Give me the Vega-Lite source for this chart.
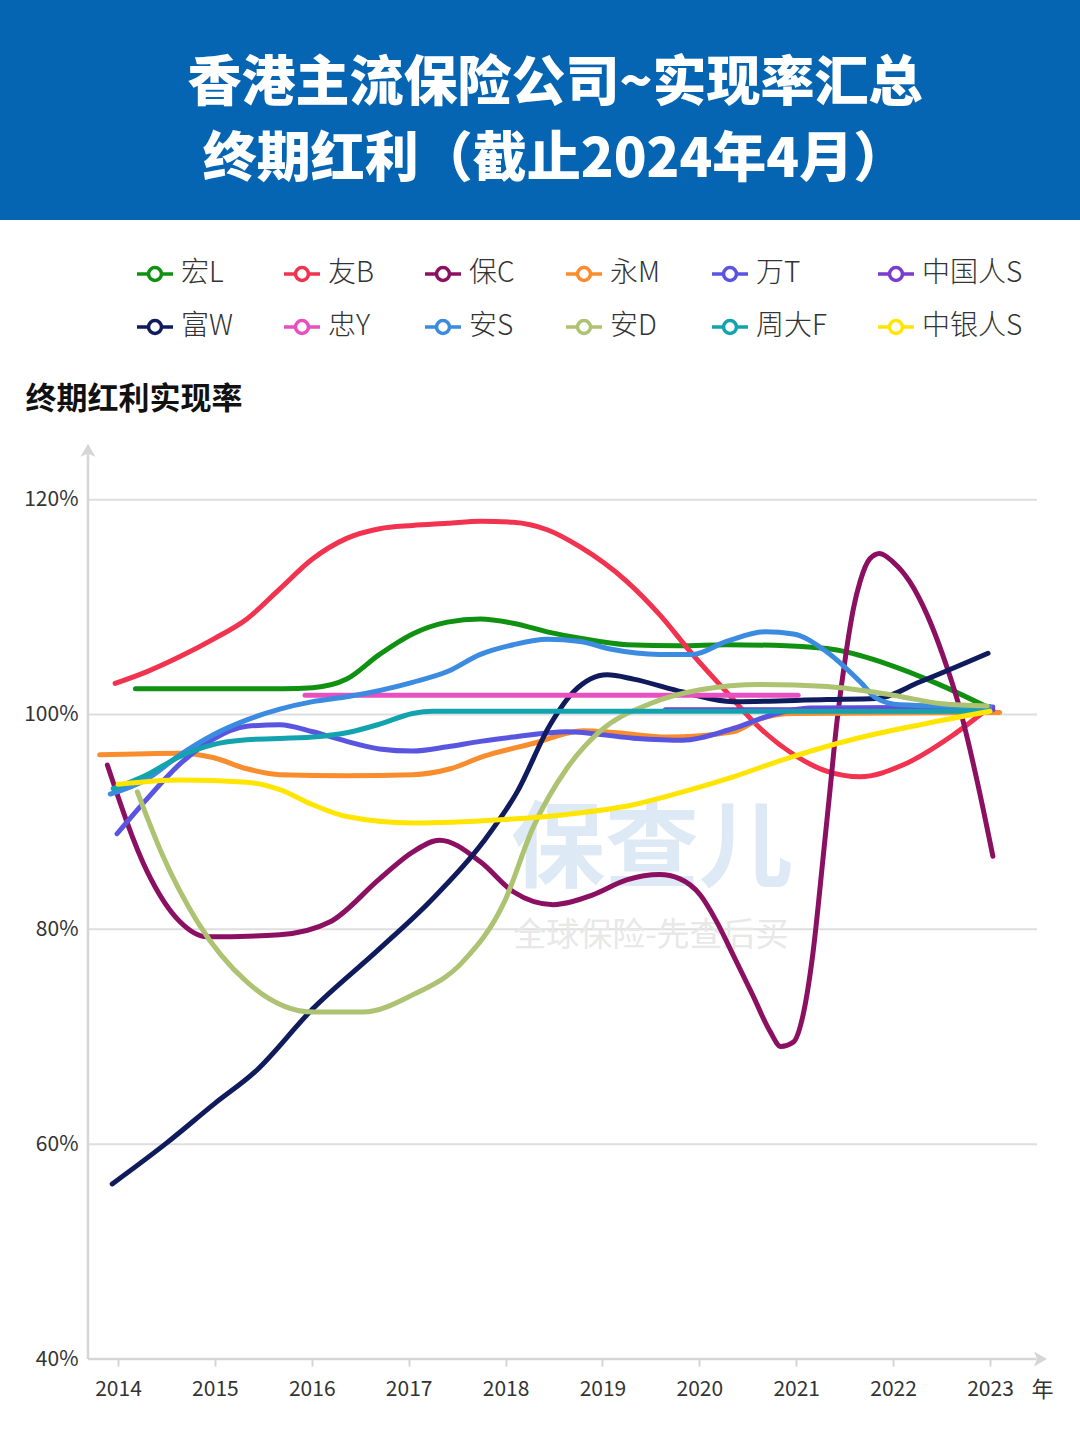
{
  "$schema": "https://vega.github.io/schema/vega-lite/v6.json",
  "background": "white",
  "padding": 0,
  "columns": 1,
  "align": "each",
  "spacing": 163,
  "config": {
    "font": "Noto Sans CJK SC",
    "view": {"stroke": null}
  },
  "concat": [
    {
      "width": 1080,
      "height": 220,
      "view": {"fill": "#0565B3", "stroke": null},
      "data": {"values": [
        {"row": 1, "line": "香港主流保险公司~实现率汇总"},
        {"row": 2, "line": "终期红利（截止2024年4月）"}
      ]},
      "mark": {"type": "text", "font": "Noto Sans CJK SC", "fontSize": 54, "fontWeight": 900, "color": "#ffffff", "align": "center", "baseline": "middle", "dx": 15, "dy": 8},
      "encoding": {
        "text": {"field": "line", "type": "nominal"},
        "x": {"datum": 0.5, "type": "quantitative", "scale": {"domain": [0, 1]}, "axis": null},
        "y": {"field": "row", "type": "quantitative", "scale": {"domain": [0, 2.87], "reverse": true, "nice": false, "zero": false}, "axis": null}
      }
    },
    {
      "width": 1080,
      "height": 913,
      "resolve": {"axis": {"x": "independent", "y": "independent"}},
      "layer": [
        {
          "data": {"values": [{"v": 60}, {"v": 80}, {"v": 100}, {"v": 120}]},
          "mark": {"type": "rule", "color": "#DEDEDE", "strokeWidth": 2},
          "encoding": {
            "y": {"field": "v", "type": "quantitative", "scale": {"domain": [40, 125], "nice": false, "zero": false}, "axis": null},
            "x": {"datum": 2013.69, "type": "quantitative", "scale": {"domain": [2012.782, 2023.929], "nice": false, "zero": false}, "axis": null},
            "x2": {"datum": 2023.485}
          }
        },
        {
          "data": {"values": [{}]},
          "mark": {"type": "rule", "color": "#D6D6D6", "strokeWidth": 2.5},
          "encoding": {
            "x": {"datum": 2013.69, "type": "quantitative", "scale": {"domain": [2012.782, 2023.929], "nice": false, "zero": false}, "axis": null},
            "y": {"datum": 40, "type": "quantitative", "scale": {"domain": [40, 125], "nice": false, "zero": false}, "axis": null},
            "y2": {"datum": 124.3}
          }
        },
        {
          "data": {"values": [{}]},
          "mark": {"type": "rule", "color": "#D6D6D6", "strokeWidth": 2.5},
          "encoding": {
            "x": {"datum": 2013.69, "type": "quantitative", "scale": {"domain": [2012.782, 2023.929], "nice": false, "zero": false}, "axis": null},
            "x2": {"datum": 2023.48},
            "y": {"datum": 40, "type": "quantitative", "scale": {"domain": [40, 125], "nice": false, "zero": false}, "axis": null}
          }
        },
        {
          "data": {"values": [{}]},
          "mark": {"type": "point", "shape": "M0,-1L0.75,0.3L0,0L-0.75,0.3Z", "size": 400, "filled": true, "color": "#D6D6D6", "opacity": 1},
          "encoding": {
            "x": {"datum": 2013.69, "type": "quantitative", "scale": {"domain": [2012.782, 2023.929], "nice": false, "zero": false}, "axis": null},
            "y": {"datum": 124.28, "type": "quantitative", "scale": {"domain": [40, 125], "nice": false, "zero": false}, "axis": null}
          }
        },
        {
          "data": {"values": [{}]},
          "mark": {"type": "point", "shape": "M1,0L-0.3,0.75L0,0L-0.3,-0.75Z", "size": 400, "filled": true, "color": "#D6D6D6", "opacity": 1},
          "encoding": {
            "x": {"datum": 2023.485, "type": "quantitative", "scale": {"domain": [2012.782, 2023.929], "nice": false, "zero": false}, "axis": null},
            "y": {"datum": 40, "type": "quantitative", "scale": {"domain": [40, 125], "nice": false, "zero": false}, "axis": null}
          }
        },
        {
          "data": {"values": [{"t": "保查儿"}]},
          "mark": {"type": "text", "fontSize": 94, "fontWeight": "bold", "color": "#DDE9F5", "align": "center", "baseline": "middle"},
          "encoding": {
            "text": {"field": "t", "type": "nominal"},
            "x": {"datum": 2019.511, "type": "quantitative", "scale": {"domain": [2012.782, 2023.929], "nice": false, "zero": false}, "axis": null},
            "y": {"datum": 87.2, "type": "quantitative", "scale": {"domain": [40, 125], "nice": false, "zero": false}, "axis": null}
          }
        },
        {
          "data": {"values": [{"t": "全球保险-先查后买"}]},
          "mark": {"type": "text", "fontSize": 33, "color": "#E8E8E8", "align": "center", "baseline": "middle"},
          "encoding": {
            "text": {"field": "t", "type": "nominal"},
            "x": {"datum": 2019.5, "type": "quantitative", "scale": {"domain": [2012.782, 2023.929], "nice": false, "zero": false}, "axis": null},
            "y": {"datum": 79.4, "type": "quantitative", "scale": {"domain": [40, 125], "nice": false, "zero": false}, "axis": null}
          }
        },
        {
          "data": {"values": [
            {"company": "宏L", "year": 2014.18, "rate": 102.4},
            {"company": "宏L", "year": 2015.0, "rate": 102.4},
            {"company": "宏L", "year": 2015.7, "rate": 102.4},
            {"company": "宏L", "year": 2016.01, "rate": 102.5},
            {"company": "宏L", "year": 2016.36, "rate": 103.3},
            {"company": "宏L", "year": 2016.7, "rate": 105.6},
            {"company": "宏L", "year": 2017.04, "rate": 107.5},
            {"company": "宏L", "year": 2017.4, "rate": 108.6},
            {"company": "宏L", "year": 2017.74, "rate": 108.9},
            {"company": "宏L", "year": 2018.08, "rate": 108.5},
            {"company": "宏L", "year": 2018.43, "rate": 107.7},
            {"company": "宏L", "year": 2018.77, "rate": 107.1},
            {"company": "宏L", "year": 2019.25, "rate": 106.5},
            {"company": "宏L", "year": 2019.8, "rate": 106.4},
            {"company": "宏L", "year": 2020.28, "rate": 106.5},
            {"company": "宏L", "year": 2020.9, "rate": 106.4},
            {"company": "宏L", "year": 2021.42, "rate": 106.0},
            {"company": "宏L", "year": 2021.94, "rate": 104.7},
            {"company": "宏L", "year": 2022.45, "rate": 102.9},
            {"company": "宏L", "year": 2022.97, "rate": 100.7},

            {"company": "友B", "year": 2013.97, "rate": 102.9},
            {"company": "友B", "year": 2014.3, "rate": 104.0},
            {"company": "友B", "year": 2014.64, "rate": 105.4},
            {"company": "友B", "year": 2014.98, "rate": 107.0},
            {"company": "友B", "year": 2015.33, "rate": 108.9},
            {"company": "友B", "year": 2015.67, "rate": 111.7},
            {"company": "友B", "year": 2016.01, "rate": 114.5},
            {"company": "友B", "year": 2016.36, "rate": 116.4},
            {"company": "友B", "year": 2016.7, "rate": 117.3},
            {"company": "友B", "year": 2017.04, "rate": 117.6},
            {"company": "友B", "year": 2017.4, "rate": 117.8},
            {"company": "友B", "year": 2017.74, "rate": 118.0},
            {"company": "友B", "year": 2018.08, "rate": 117.9},
            {"company": "友B", "year": 2018.43, "rate": 117.2},
            {"company": "友B", "year": 2018.77, "rate": 115.6},
            {"company": "友B", "year": 2019.25, "rate": 112.4},
            {"company": "友B", "year": 2019.59, "rate": 109.3},
            {"company": "友B", "year": 2019.93, "rate": 105.6},
            {"company": "友B", "year": 2020.28, "rate": 102.1},
            {"company": "友B", "year": 2020.63, "rate": 98.7},
            {"company": "友B", "year": 2020.97, "rate": 96.3},
            {"company": "友B", "year": 2021.32, "rate": 94.7},
            {"company": "友B", "year": 2021.66, "rate": 94.2},
            {"company": "友B", "year": 2022.1, "rate": 95.3},
            {"company": "友B", "year": 2022.62, "rate": 98.1},
            {"company": "友B", "year": 2023.0, "rate": 100.7},

            {"company": "保C", "year": 2013.89, "rate": 95.3},
            {"company": "保C", "year": 2014.3, "rate": 85.4},
            {"company": "保C", "year": 2014.64, "rate": 80.7},
            {"company": "保C", "year": 2014.92, "rate": 79.3},
            {"company": "保C", "year": 2015.67, "rate": 79.5},
            {"company": "保C", "year": 2016.19, "rate": 80.7},
            {"company": "保C", "year": 2016.7, "rate": 84.7},
            {"company": "保C", "year": 2017.04, "rate": 87.2},
            {"company": "保C", "year": 2017.32, "rate": 88.3},
            {"company": "保C", "year": 2017.74, "rate": 86.3},
            {"company": "保C", "year": 2018.08, "rate": 83.5},
            {"company": "保C", "year": 2018.49, "rate": 82.3},
            {"company": "保C", "year": 2018.9, "rate": 83.2},
            {"company": "保C", "year": 2019.25, "rate": 84.6},
            {"company": "保C", "year": 2019.59, "rate": 85.1},
            {"company": "保C", "year": 2019.8, "rate": 84.7},
            {"company": "保C", "year": 2020.01, "rate": 83.2},
            {"company": "保C", "year": 2020.18, "rate": 80.7},
            {"company": "保C", "year": 2020.35, "rate": 77.6},
            {"company": "保C", "year": 2020.55, "rate": 73.9},
            {"company": "保C", "year": 2020.73, "rate": 70.5},
            {"company": "保C", "year": 2020.84, "rate": 69.1},
            {"company": "保C", "year": 2020.97, "rate": 69.5},
            {"company": "保C", "year": 2021.07, "rate": 72.0},
            {"company": "保C", "year": 2021.17, "rate": 77.6},
            {"company": "保C", "year": 2021.28, "rate": 86.9},
            {"company": "保C", "year": 2021.35, "rate": 93.1},
            {"company": "保C", "year": 2021.42, "rate": 99.3},
            {"company": "保C", "year": 2021.52, "rate": 106.1},
            {"company": "保C", "year": 2021.59, "rate": 109.85},
            {"company": "保C", "year": 2021.66, "rate": 112.4},
            {"company": "保C", "year": 2021.76, "rate": 114.5},
            {"company": "保C", "year": 2021.86, "rate": 115.0},
            {"company": "保C", "year": 2022.0, "rate": 114.2},
            {"company": "保C", "year": 2022.17, "rate": 112.4},
            {"company": "保C", "year": 2022.35, "rate": 109.3},
            {"company": "保C", "year": 2022.51, "rate": 105.6},
            {"company": "保C", "year": 2022.69, "rate": 100.5},
            {"company": "保C", "year": 2022.87, "rate": 93.7},
            {"company": "保C", "year": 2023.03, "rate": 86.8},

            {"company": "永M", "year": 2013.81, "rate": 96.25},
            {"company": "永M", "year": 2014.64, "rate": 96.4},
            {"company": "永M", "year": 2014.98, "rate": 96.0},
            {"company": "永M", "year": 2015.33, "rate": 94.95},
            {"company": "永M", "year": 2015.67, "rate": 94.4},
            {"company": "永M", "year": 2016.36, "rate": 94.3},
            {"company": "永M", "year": 2017.04, "rate": 94.4},
            {"company": "永M", "year": 2017.43, "rate": 94.95},
            {"company": "永M", "year": 2017.77, "rate": 96.1},
            {"company": "永M", "year": 2018.28, "rate": 97.3},
            {"company": "永M", "year": 2018.8, "rate": 98.5},
            {"company": "永M", "year": 2019.15, "rate": 98.3},
            {"company": "永M", "year": 2019.67, "rate": 97.9},
            {"company": "永M", "year": 2020.35, "rate": 98.4},
            {"company": "永M", "year": 2020.63, "rate": 99.6},
            {"company": "永M", "year": 2020.97, "rate": 100.1},
            {"company": "永M", "year": 2023.1, "rate": 100.2},

            {"company": "万T", "year": 2013.99, "rate": 88.9},
            {"company": "万T", "year": 2014.3, "rate": 92.15},
            {"company": "万T", "year": 2014.64, "rate": 95.4},
            {"company": "万T", "year": 2014.98, "rate": 97.7},
            {"company": "万T", "year": 2015.33, "rate": 98.9},
            {"company": "万T", "year": 2015.67, "rate": 99.05},
            {"company": "万T", "year": 2016.01, "rate": 98.4},
            {"company": "万T", "year": 2016.36, "rate": 97.5},
            {"company": "万T", "year": 2016.7, "rate": 96.8},
            {"company": "万T", "year": 2017.04, "rate": 96.6},
            {"company": "万T", "year": 2017.4, "rate": 97.0},
            {"company": "万T", "year": 2017.74, "rate": 97.5},
            {"company": "万T", "year": 2018.08, "rate": 97.9},
            {"company": "万T", "year": 2018.63, "rate": 98.4},
            {"company": "万T", "year": 2019.32, "rate": 97.8},
            {"company": "万T", "year": 2019.83, "rate": 97.6},
            {"company": "万T", "year": 2020.35, "rate": 98.7},
            {"company": "万T", "year": 2020.8, "rate": 100.1},
            {"company": "万T", "year": 2021.14, "rate": 100.6},
            {"company": "万T", "year": 2023.03, "rate": 100.7},

            {"company": "中国人S", "year": 2019.65, "rate": 100.45},
            {"company": "中国人S", "year": 2023.03, "rate": 100.45},

            {"company": "富W", "year": 2013.94, "rate": 56.3},
            {"company": "富W", "year": 2014.5, "rate": 60.1},
            {"company": "富W", "year": 2015.0, "rate": 63.8},
            {"company": "富W", "year": 2015.41, "rate": 66.7},
            {"company": "富W", "year": 2016.01, "rate": 72.6},
            {"company": "富W", "year": 2016.7, "rate": 78.2},
            {"company": "富W", "year": 2017.22, "rate": 82.6},
            {"company": "富W", "year": 2017.77, "rate": 88.15},
            {"company": "富W", "year": 2018.12, "rate": 92.8},
            {"company": "富W", "year": 2018.46, "rate": 99.05},
            {"company": "富W", "year": 2018.7, "rate": 102.1},
            {"company": "富W", "year": 2019.05, "rate": 103.7},
            {"company": "富W", "year": 2019.32, "rate": 103.3},
            {"company": "富W", "year": 2019.83, "rate": 102.1},
            {"company": "富W", "year": 2020.35, "rate": 101.2},
            {"company": "富W", "year": 2021.32, "rate": 101.4},
            {"company": "富W", "year": 2021.83, "rate": 101.5},
            {"company": "富W", "year": 2022.28, "rate": 103.05},
            {"company": "富W", "year": 2022.98, "rate": 105.7},

            {"company": "忠Y", "year": 2015.93, "rate": 101.8},
            {"company": "忠Y", "year": 2021.02, "rate": 101.8},

            {"company": "安S", "year": 2013.92, "rate": 92.6},
            {"company": "安S", "year": 2014.3, "rate": 94.0},
            {"company": "安S", "year": 2014.64, "rate": 96.25},
            {"company": "安S", "year": 2014.98, "rate": 98.1},
            {"company": "安S", "year": 2015.33, "rate": 99.5},
            {"company": "安S", "year": 2015.67, "rate": 100.5},
            {"company": "安S", "year": 2016.01, "rate": 101.2},
            {"company": "安S", "year": 2016.36, "rate": 101.65},
            {"company": "安S", "year": 2017.04, "rate": 103.0},
            {"company": "安S", "year": 2017.4, "rate": 104.0},
            {"company": "安S", "year": 2017.74, "rate": 105.6},
            {"company": "安S", "year": 2018.08, "rate": 106.5},
            {"company": "安S", "year": 2018.43, "rate": 107.0},
            {"company": "安S", "year": 2018.77, "rate": 106.8},
            {"company": "安S", "year": 2019.08, "rate": 106.1},
            {"company": "安S", "year": 2019.59, "rate": 105.6},
            {"company": "安S", "year": 2019.93, "rate": 105.6},
            {"company": "安S", "year": 2020.28, "rate": 106.8},
            {"company": "安S", "year": 2020.68, "rate": 107.7},
            {"company": "安S", "year": 2020.97, "rate": 107.5},
            {"company": "安S", "year": 2021.32, "rate": 105.8},
            {"company": "安S", "year": 2021.66, "rate": 103.05},
            {"company": "安S", "year": 2021.83, "rate": 101.5},
            {"company": "安S", "year": 2022.07, "rate": 100.9},
            {"company": "安S", "year": 2023.0, "rate": 100.7},

            {"company": "安D", "year": 2014.2, "rate": 92.8},
            {"company": "安D", "year": 2014.46, "rate": 86.9},
            {"company": "安D", "year": 2014.82, "rate": 80.7},
            {"company": "安D", "year": 2015.33, "rate": 75.1},
            {"company": "安D", "year": 2016.01, "rate": 72.3},
            {"company": "安D", "year": 2016.53, "rate": 72.3},
            {"company": "安D", "year": 2017.04, "rate": 73.9},
            {"company": "安D", "year": 2017.56, "rate": 77.0},
            {"company": "安D", "year": 2017.99, "rate": 82.6},
            {"company": "安D", "year": 2018.28, "rate": 89.4},
            {"company": "安D", "year": 2018.63, "rate": 94.95},
            {"company": "安D", "year": 2018.97, "rate": 98.4},
            {"company": "安D", "year": 2019.49, "rate": 101.0},
            {"company": "安D", "year": 2020.01, "rate": 102.3},
            {"company": "安D", "year": 2020.63, "rate": 102.8},
            {"company": "安D", "year": 2021.32, "rate": 102.6},
            {"company": "安D", "year": 2022.0, "rate": 101.8},
            {"company": "安D", "year": 2022.51, "rate": 101.0},
            {"company": "安D", "year": 2022.97, "rate": 100.8},

            {"company": "周大F", "year": 2013.95, "rate": 93.1},
            {"company": "周大F", "year": 2014.3, "rate": 94.4},
            {"company": "周大F", "year": 2014.64, "rate": 96.1},
            {"company": "周大F", "year": 2014.98, "rate": 97.2},
            {"company": "周大F", "year": 2015.33, "rate": 97.65},
            {"company": "周大F", "year": 2016.01, "rate": 97.9},
            {"company": "周大F", "year": 2016.36, "rate": 98.3},
            {"company": "周大F", "year": 2016.7, "rate": 99.1},
            {"company": "周大F", "year": 2017.04, "rate": 100.1},
            {"company": "周大F", "year": 2017.25, "rate": 100.3},
            {"company": "周大F", "year": 2023.0, "rate": 100.3},

            {"company": "中银人S", "year": 2014.0, "rate": 93.5},
            {"company": "中银人S", "year": 2014.64, "rate": 93.9},
            {"company": "中银人S", "year": 2015.33, "rate": 93.7},
            {"company": "中银人S", "year": 2015.67, "rate": 93.0},
            {"company": "中银人S", "year": 2016.01, "rate": 91.6},
            {"company": "中银人S", "year": 2016.36, "rate": 90.5},
            {"company": "中银人S", "year": 2017.04, "rate": 89.9},
            {"company": "中银人S", "year": 2017.94, "rate": 90.2},
            {"company": "中银人S", "year": 2018.63, "rate": 90.7},
            {"company": "中银人S", "year": 2019.32, "rate": 91.6},
            {"company": "中银人S", "year": 2019.83, "rate": 92.8},
            {"company": "中银人S", "year": 2020.35, "rate": 94.2},
            {"company": "中银人S", "year": 2020.9, "rate": 95.9},
            {"company": "中银人S", "year": 2021.59, "rate": 97.7},
            {"company": "中银人S", "year": 2022.28, "rate": 99.05},
            {"company": "中银人S", "year": 2023.0, "rate": 100.3}
          ]},
          "mark": {"type": "line", "interpolate": "monotone", "strokeWidth": 5, "strokeCap": "round", "strokeJoin": "round"},
          "encoding": {
            "x": {
              "field": "year", "type": "quantitative",
              "scale": {"domain": [2012.782, 2023.929], "nice": false, "zero": false},
              "axis": {
                "values": [2014, 2015, 2016, 2017, 2018, 2019, 2020, 2021, 2022, 2023],
                "format": "d", "domain": false, "grid": false, "ticks": true,
                "tickSize": 7, "tickColor": "#D6D6D6", "tickWidth": 2,
                "labelFontSize": 21, "labelPadding": 12, "labelColor": "#333333", "labelFlush": false,
                "labelFont": "Noto Sans CJK SC",
                "title": "年", "titleX": 1042, "titleY": 30, "titleAlign": "center", "titleBaseline": "middle", "titleAngle": 0,
                "titleFontSize": 22, "titleFontWeight": "normal", "titleColor": "#333333", "titleFont": "Noto Sans CJK SC"
              }
            },
            "y": {
              "field": "rate", "type": "quantitative",
              "scale": {"domain": [40, 125], "nice": false, "zero": false},
              "axis": {
                "orient": "left", "offset": -88,
                "values": [40, 60, 80, 100, 120],
                "labelExpr": "datum.value + '%'",
                "domain": false, "ticks": false, "grid": false,
                "labelPadding": 10, "labelFontSize": 21, "labelColor": "#333333", "labelFont": "Noto Sans CJK SC",
                "title": "终期红利实现率", "titleAngle": 0, "titleAlign": "left", "titleBaseline": "middle",
                "titleX": -63, "titleY": -47, "titleFontSize": 31, "titleFontWeight": "bold", "titleColor": "#111111", "titleFont": "Noto Sans CJK SC"
              }
            },
            "color": {
              "field": "company", "type": "nominal",
              "scale": {
                "domain": ["宏L", "友B", "保C", "永M", "万T", "中国人S", "富W", "忠Y", "安S", "安D", "周大F", "中银人S"],
                "range": ["#119111", "#F2334F", "#8C1062", "#F98D2E", "#5A55E0", "#7B3DCD", "#0F1B5C", "#E84FC0", "#3B8BE0", "#ADC372", "#13A3AE", "#FFE500"]
              },
              "legend": {
                "title": null, "orient": "none", "legendX": 135, "legendY": 254,
                "direction": "horizontal", "columns": 6, "columnPadding": 44, "rowPadding": 19,
                "symbolType": "M-1,0H-0.36M0.36,0H1M-0.36,0A0.36,0.36 0 1 1 0.36,0A0.36,0.36 0 1 1 -0.36,0Z",
                "symbolSize": 1296, "symbolStrokeWidth": 3.5, "symbolFillColor": "#ffffff",
                "labelFontSize": 28, "labelFont": "Noto Sans CJK SC", "labelFontWeight": 300, "labelColor": "#333333",
                "labelOffset": 6, "labelLimit": 300, "padding": 0
              }
            }
          }
        }
      ]
    }
  ]
}
